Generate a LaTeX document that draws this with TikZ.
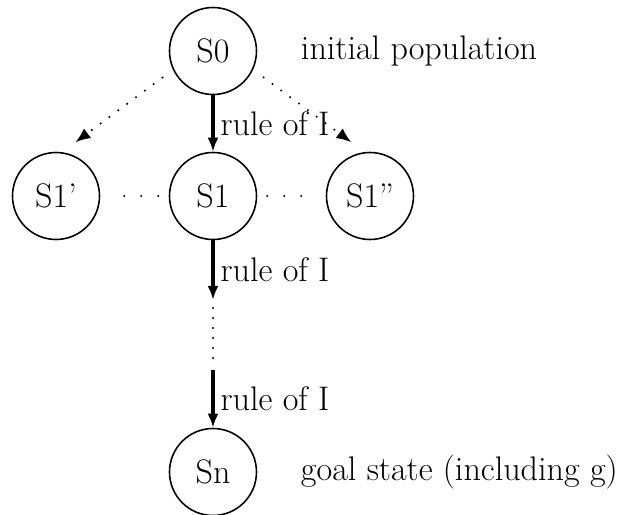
\documentclass[tikz,border=0pt]{standalone}
\usepackage{fontspec}
\usepackage{tikz}
\usetikzlibrary{arrows.meta,positioning}

\begin{document}
\begin{tikzpicture}[font=\fontsize{19.4}{23}\selectfont, >=Latex,
  state/.style={draw, circle, line width=0.9pt, minimum size=1.74cm, inner sep=0pt},
  rulearrow/.style={-{Latex[length=2.8mm,width=2.2mm]}, line width=2pt},
  dotline/.style={line width=1.3pt, line cap=round, dash pattern=on 0pt off 0.34cm},
  dotarrow/.style={dotline, dash pattern=on 0pt off 0.22cm, -{Latex[length=3mm,width=2.4mm]}}]
\useasboundingbox (0,0) rectangle (12.4,10.3);
\node[state] (s0) at (4.26,9.28) {S0};
\node[state] (s1) at (4.26,6.38) {S1};
\node[state] (s1a) at (1.12,6.38) {S1'};
\node[state] (s1b) at (7.40,6.38) {S1''};
\node[state] (sn) at (4.26,0.86) {Sn};
\node[right=7.5mm of s0] (init) {initial population};
\node[right=7.5mm of sn] (goal) {goal state (including g)};
\coordinate (g1) at (4.26,4.30);
\coordinate (g2) at (4.26,2.90);
\draw[rulearrow] (s0) -- node[midway, right] (r1) {rule of I} (s1);
\draw[rulearrow] (s1) -- node[midway, right] (r2) {rule of I} (g1);
\draw[dotline, dash pattern=on 0pt off 0.2cm, shorten <=0.16cm, shorten >=0.2cm] (g1) -- (g2);
\draw[rulearrow] (g2) -- node[midway, right] (r3) {rule of I} (sn);
\draw[dotline, shorten <=0.48cm, shorten >=0.17cm] (s1a) -- (s1);
\draw[dotline, shorten <=0.2cm, shorten >=0.42cm] (s1) -- (s1b);
\draw[dotarrow, shorten <=0.26cm, shorten >=0.33cm] (s0.205) -- (s1a.82);
\draw[dotarrow, shorten <=0.26cm, shorten >=0.33cm] (s0.335) -- (s1b.97);
\end{tikzpicture}
\end{document}
